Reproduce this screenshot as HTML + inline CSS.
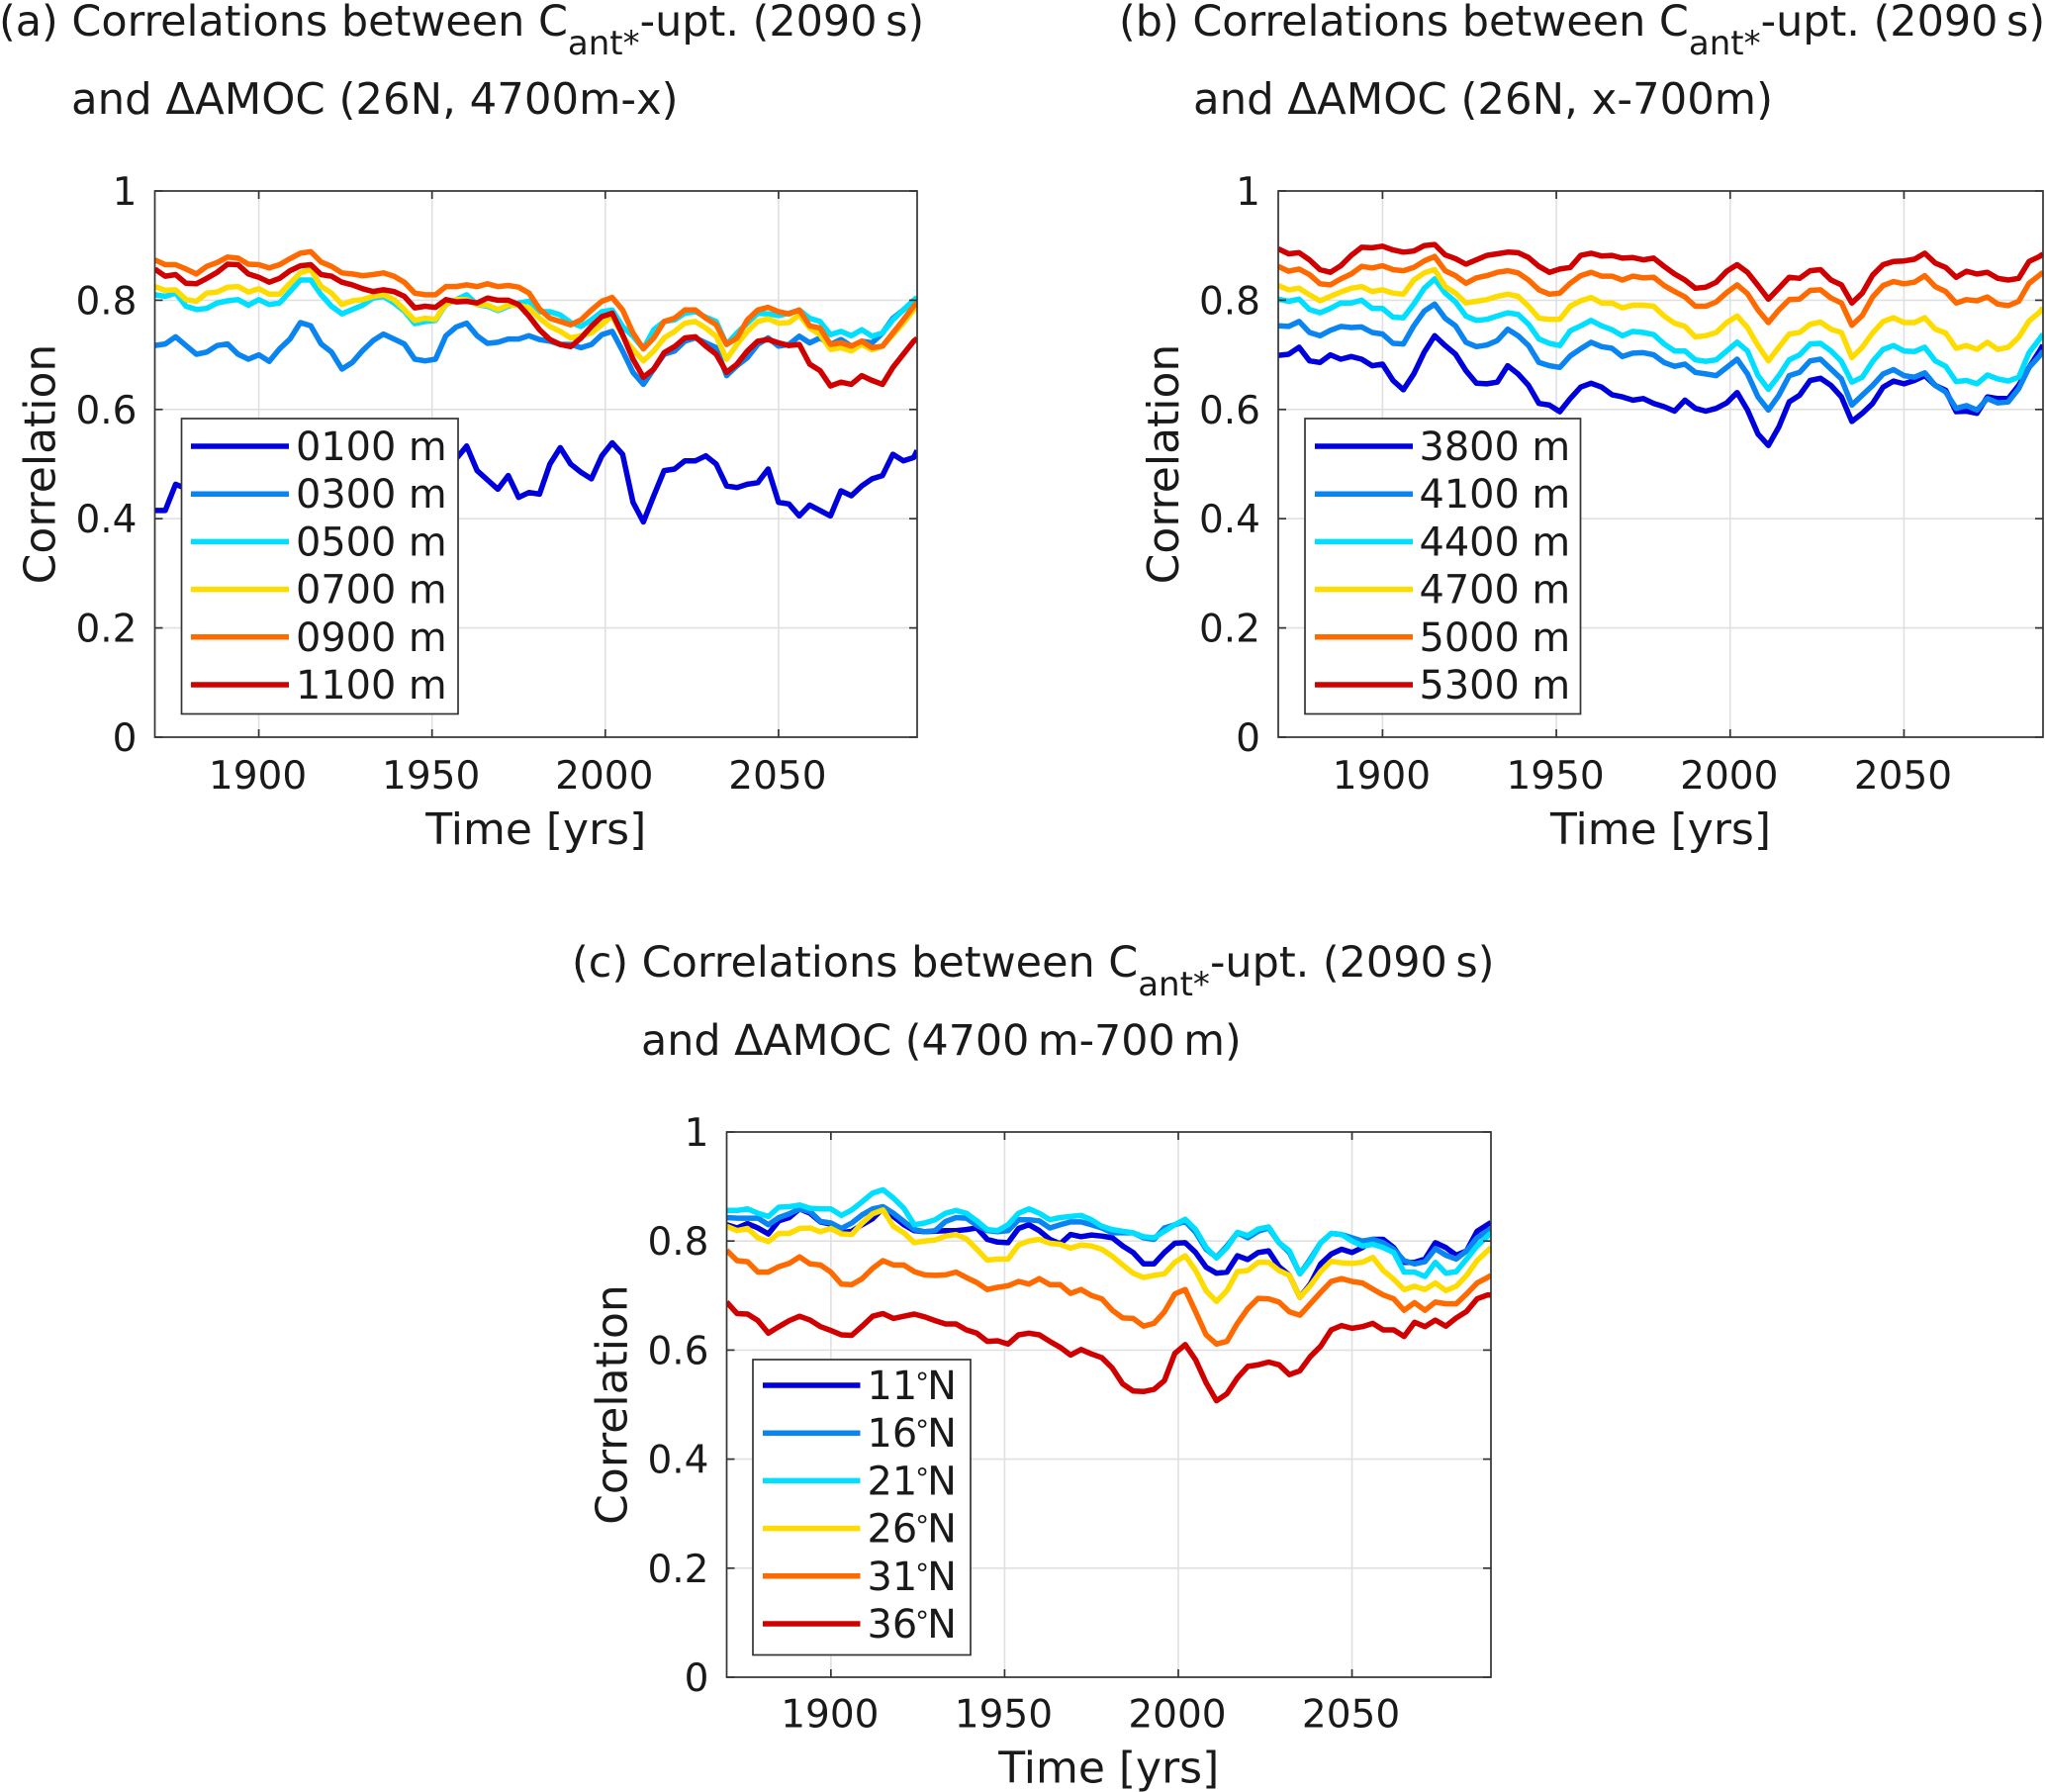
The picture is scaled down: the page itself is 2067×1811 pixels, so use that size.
<!DOCTYPE html>
<html lang="en">
<head>
<meta charset="utf-8">
<title>Correlations between Cant*-uptake and AMOC change</title>
<style>
html,body{margin:0;padding:0;background:#fff;}
svg{display:block;font-family:"DejaVu Sans","Liberation Sans",sans-serif;}
text{fill:#1a1a1a;}
</style>
</head>
<body>
<svg id="figure" xmlns="http://www.w3.org/2000/svg" width="2067" height="1811" viewBox="0 0 2067 1811">
<rect x="0" y="0" width="2067" height="1811" fill="#ffffff"/>
<g font-size="42.9">
<text x="-1" y="36">(a) Correlations between C<tspan dy="19" font-size="34">ant*</tspan><tspan dy="-19">-upt. (2090&#8201;s)</tspan></text>
<text x="72" y="115" font-size="43.4">and ΔAMOC (26N, 4700m-x)</text>
<text x="1131" y="36">(b) Correlations between C<tspan dy="19" font-size="34">ant*</tspan><tspan dy="-19">-upt. (2090&#8201;s)</tspan></text>
<text x="1206" y="115" font-size="43.4">and ΔAMOC (26N, x-700m)</text>
<text x="578" y="987">(c) Correlations between C<tspan dy="19" font-size="34">ant*</tspan><tspan dy="-19">-upt. (2090&#8201;s)</tspan></text>
<text x="648" y="1066" font-size="42.8">and ΔAMOC (4700&#8201;m-700&#8201;m)</text>
</g>
</svg>
<script>
const years=[1870,1873,1876,1879,1882,1885,1888,1891,1894,1897,1900,1903,1906,1909,1912,1915,1918,1921,1924,1927,1930,1933,1936,1939,1942,1945,1948,1951,1954,1957,1960,1963,1966,1969,1972,1975,1978,1981,1984,1987,1990,1993,1996,1999,2002,2005,2008,2011,2014,2017,2020,2023,2026,2029,2032,2035,2038,2041,2044,2047,2050,2053,2056,2059,2062,2065,2068,2071,2074,2077,2080,2083,2086,2089,2090];
const xTickValues=[1900,1950,2000,2050];
const xTickLabels=['1900','1950','2000','2050'];
const yTickValues=[0,0.2,0.4,0.6,0.8,1];
const yTickLabels=['0','0.2','0.4','0.6','0.8','1'];
const xRange=[1870,2090];
const yRange=[0,1];

const a0100=[.415,.415,.463,.455,.46,.47,.48,.47,.46,.47,.48,.49,.50,.49,.52,.50,.50,.49,.48,.47,.49,.50,.51,.50,.50,.51,.52,.51,.52,.51,.533,.488,.471,.454,.479,.439,.448,.445,.500,.530,.500,.485,.473,.515,.539,.518,.430,.394,.442,.488,.491,.506,.506,.515,.500,.460,.457,.463,.466,.491,.430,.427,.405,.425,.415,.405,.451,.442,.460,.473,.479,.518,.506,.512,.525];
const a0300=[.717,.720,.733,.717,.701,.705,.717,.720,.701,.692,.700,.688,.711,.729,.759,.753,.720,.705,.674,.686,.708,.726,.738,.729,.720,.692,.689,.692,.735,.751,.758,.735,.721,.723,.729,.729,.735,.728,.725,.719,.719,.713,.719,.737,.743,.707,.668,.646,.674,.701,.707,.725,.731,.722,.713,.662,.680,.695,.719,.731,.716,.719,.734,.722,.731,.719,.728,.716,.725,.722,.740,.767,.782,.799,.805];
const a0500=[.810,.807,.813,.789,.783,.785,.795,.799,.801,.791,.801,.792,.795,.816,.837,.837,.810,.789,.775,.783,.791,.804,.807,.795,.780,.757,.761,.763,.792,.801,.810,.792,.789,.781,.789,.795,.798,.779,.779,.773,.759,.752,.764,.779,.782,.752,.734,.711,.746,.761,.764,.776,.779,.769,.761,.719,.740,.758,.776,.775,.772,.776,.782,.767,.761,.737,.743,.735,.746,.734,.740,.764,.782,.800,.805];
const a0700=[.825,.818,.819,.801,.798,.813,.815,.824,.825,.815,.821,.811,.811,.831,.850,.856,.825,.813,.792,.799,.801,.807,.810,.801,.783,.763,.767,.765,.793,.801,.801,.792,.791,.783,.791,.791,.786,.767,.752,.743,.731,.735,.740,.755,.772,.734,.710,.689,.707,.731,.743,.758,.761,.749,.734,.692,.719,.743,.761,.766,.758,.759,.773,.749,.737,.710,.713,.707,.719,.709,.716,.737,.758,.782,.79];
const a0900=[.874,.865,.865,.857,.848,.862,.869,.879,.877,.866,.865,.859,.865,.876,.886,.889,.870,.862,.850,.848,.845,.847,.850,.844,.833,.813,.810,.810,.825,.825,.828,.825,.830,.825,.827,.824,.813,.784,.767,.761,.755,.764,.782,.798,.805,.782,.740,.711,.731,.761,.767,.782,.782,.767,.755,.719,.731,.764,.782,.787,.779,.775,.782,.753,.749,.719,.722,.716,.725,.713,.716,.740,.764,.789,.795];
const a1100=[.857,.844,.847,.831,.830,.840,.851,.866,.865,.848,.842,.833,.840,.854,.863,.865,.847,.844,.833,.828,.821,.816,.819,.816,.807,.786,.789,.787,.801,.797,.798,.795,.804,.800,.800,.792,.771,.746,.728,.719,.715,.731,.752,.770,.776,.737,.692,.659,.674,.704,.715,.731,.733,.716,.701,.668,.683,.707,.725,.728,.722,.717,.719,.683,.671,.643,.650,.646,.662,.653,.646,.677,.701,.725,.73];

const b3800=[.699,.701,.714,.689,.686,.700,.692,.697,.692,.680,.683,.653,.636,.665,.705,.735,.717,.701,.671,.648,.647,.650,.680,.665,.644,.611,.608,.596,.620,.641,.648,.641,.627,.623,.617,.620,.611,.605,.597,.617,.602,.597,.602,.612,.631,.599,.555,.534,.568,.614,.626,.653,.657,.644,.623,.578,.593,.611,.641,.652,.647,.653,.662,.644,.635,.596,.597,.593,.623,.620,.620,.644,.677,.707,.718];
const b4100=[.753,.752,.761,.741,.735,.745,.752,.750,.751,.741,.738,.721,.720,.753,.780,.793,.767,.753,.723,.715,.718,.726,.747,.735,.717,.686,.680,.677,.698,.711,.723,.715,.712,.697,.703,.704,.700,.686,.679,.683,.668,.665,.662,.677,.692,.665,.623,.599,.626,.662,.668,.689,.692,.674,.656,.608,.626,.644,.665,.673,.662,.659,.667,.644,.632,.602,.607,.599,.620,.612,.614,.638,.677,.698,.707];
const b4400=[.802,.798,.802,.783,.777,.785,.795,.795,.800,.785,.785,.769,.768,.793,.822,.839,.813,.797,.771,.763,.765,.771,.777,.774,.756,.729,.721,.717,.744,.753,.763,.753,.746,.735,.743,.741,.737,.720,.707,.707,.691,.688,.691,.707,.723,.707,.662,.637,.662,.691,.700,.720,.721,.707,.688,.650,.659,.688,.710,.717,.707,.706,.714,.689,.679,.651,.653,.647,.663,.656,.652,.659,.704,.729,.738];
const b4700=[.827,.819,.822,.810,.799,.807,.815,.822,.825,.816,.819,.813,.811,.837,.850,.856,.825,.813,.795,.798,.801,.807,.811,.807,.789,.767,.765,.765,.789,.799,.805,.795,.795,.786,.791,.791,.789,.771,.758,.752,.733,.735,.741,.759,.771,.750,.717,.689,.714,.738,.741,.756,.760,.747,.741,.695,.714,.740,.761,.768,.759,.759,.768,.747,.740,.712,.717,.710,.723,.710,.714,.732,.762,.778,.786];
const b5000=[.862,.853,.857,.847,.830,.828,.839,.848,.862,.859,.863,.856,.854,.860,.872,.880,.854,.845,.831,.841,.845,.851,.854,.850,.837,.819,.811,.813,.831,.845,.851,.844,.844,.837,.844,.841,.842,.827,.816,.806,.789,.789,.797,.814,.828,.812,.782,.759,.782,.801,.802,.818,.819,.804,.795,.754,.772,.806,.827,.834,.830,.833,.845,.825,.816,.795,.801,.799,.806,.793,.790,.798,.831,.846,.851];
const b5300=[.894,.885,.887,.874,.856,.851,.863,.882,.897,.896,.899,.892,.888,.890,.900,.902,.883,.876,.866,.874,.882,.885,.888,.887,.878,.862,.851,.857,.860,.882,.886,.881,.882,.877,.878,.874,.877,.862,.848,.837,.822,.824,.833,.853,.865,.851,.827,.802,.822,.842,.840,.854,.856,.837,.828,.795,.813,.846,.865,.871,.872,.875,.886,.868,.860,.842,.853,.848,.851,.840,.837,.840,.871,.880,.885];

const c11n=[.830,.824,.832,.824,.813,.837,.843,.859,.851,.835,.831,.815,.818,.830,.841,.860,.845,.830,.819,.817,.818,.819,.819,.821,.824,.803,.798,.797,.823,.830,.819,.803,.795,.812,.808,.811,.809,.806,.791,.779,.758,.758,.779,.796,.797,.779,.752,.741,.743,.773,.766,.779,.782,.753,.737,.697,.721,.758,.776,.785,.779,.788,.803,.803,.788,.761,.761,.767,.797,.788,.774,.782,.818,.830,.834];
const c16n=[.843,.842,.842,.842,.830,.843,.850,.859,.854,.836,.833,.823,.833,.848,.859,.863,.851,.836,.821,.817,.819,.836,.843,.842,.829,.819,.817,.819,.839,.839,.837,.824,.830,.835,.835,.830,.824,.815,.815,.815,.806,.803,.824,.830,.836,.816,.785,.770,.791,.815,.806,.818,.824,.797,.779,.740,.767,.797,.814,.812,.806,.800,.803,.797,.785,.764,.758,.762,.786,.774,.767,.782,.806,.818,.824];
const c21n=[.856,.856,.859,.851,.845,.862,.863,.866,.860,.859,.859,.847,.857,.872,.888,.894,.879,.860,.830,.833,.839,.851,.856,.851,.837,.821,.819,.830,.851,.859,.851,.839,.843,.845,.847,.839,.827,.821,.818,.815,.808,.806,.818,.830,.840,.821,.788,.769,.788,.816,.810,.822,.826,.797,.782,.740,.764,.797,.814,.812,.800,.791,.794,.788,.779,.743,.743,.735,.761,.741,.744,.767,.791,.809,.815];
const c26n=[.827,.819,.823,.806,.799,.814,.814,.823,.824,.817,.823,.813,.812,.833,.850,.857,.827,.815,.797,.800,.802,.809,.812,.804,.785,.765,.767,.767,.793,.800,.803,.796,.794,.787,.793,.791,.785,.772,.756,.741,.733,.737,.740,.761,.773,.746,.709,.689,.709,.744,.746,.761,.761,.746,.737,.697,.718,.744,.763,.760,.759,.761,.770,.746,.730,.711,.717,.711,.723,.709,.717,.737,.764,.782,.788];
const c31n=[.783,.764,.762,.743,.743,.753,.759,.771,.758,.756,.743,.721,.720,.731,.750,.764,.756,.756,.744,.738,.737,.738,.743,.733,.724,.711,.715,.718,.726,.721,.731,.720,.720,.704,.711,.700,.694,.673,.659,.658,.644,.649,.670,.703,.711,.670,.628,.611,.616,.649,.676,.695,.694,.688,.670,.664,.685,.706,.726,.731,.726,.723,.712,.701,.694,.673,.687,.673,.688,.685,.685,.703,.723,.733,.737];
const c36n=[.688,.667,.666,.654,.631,.643,.654,.662,.655,.643,.636,.628,.627,.644,.662,.667,.658,.662,.666,.661,.654,.648,.648,.637,.631,.616,.617,.611,.628,.631,.628,.616,.605,.591,.601,.593,.586,.567,.538,.525,.524,.528,.544,.594,.610,.582,.540,.507,.520,.549,.570,.573,.578,.573,.555,.562,.588,.607,.637,.645,.640,.643,.649,.637,.637,.625,.651,.643,.655,.644,.659,.671,.694,.701,.701];

const seriesColors=['#0000dd','#0a84f0','#00dfff','#ffdc00','#ff6a00','#d00000'];
const panelALabels=['0100 m','0300 m','0500 m','0700 m','0900 m','1100 m'];
const panelBLabels=['3800 m','4100 m','4400 m','4700 m','5000 m','5300 m'];
const panelCLabels=['11','16','21','26','31','36'];

const panelA={id:'a',left:156.5,top:193,width:770.5,height:552,legendW:279.5,legendDx:27,lineDx:36.5,lineLen:99,textDx:142.5,rowDy:258,tickDy:52,titleDy:108,values:[a0100,a0300,a0500,a0700,a0900,a1100],labels:panelALabels,latitude:false};
const panelB={id:'b',left:1292,top:193,width:773,height:552,legendW:278.5,legendDx:27,lineDx:37,lineLen:99,textDx:142.5,rowDy:258,tickDy:52,titleDy:108,values:[b3800,b4100,b4400,b4700,b5000,b5300],labels:panelBLabels,latitude:false};
const panelC={id:'c',left:734.5,top:1144,width:772.5,height:551,legendW:220,legendDx:26.5,lineDx:36.5,lineLen:98.5,textDx:142,rowDy:256,tickDy:50.5,titleDy:106.5,values:[c11n,c16n,c21n,c26n,c31n,c36n],labels:panelCLabels,latitude:true};

const SVGNS='http://www.w3.org/2000/svg';
const figure=document.getElementById('figure');
function make(tag,parent,attrs){
  const node=document.createElementNS(SVGNS,tag);
  for(const key in attrs){node.setAttribute(key,attrs[key]);}
  parent.appendChild(node);
  return node;
}
function drawPanel(p){
  const xAxis=function(year){return p.left+(year-xRange[0])/(xRange[1]-xRange[0])*p.width;};
  const yAxis=function(v){return p.top+p.height-(v-yRange[0])/(yRange[1]-yRange[0])*p.height;};
  const bottom=p.top+p.height;
  const right=p.left+p.width;

  const group=make('g',figure,{});
  
  

  const clip=make('clipPath',group,{id:'clip-'+p.id});
  make('rect',clip,{x:p.left,y:p.top,width:p.width,height:p.height});

  xTickValues.forEach(function(t,i){
    const x=xAxis(t);
    const grid=make('line',group,{x1:x,x2:x,y1:p.top,y2:bottom,stroke:'#e0e0e0','stroke-width':1.6});
    
    
  });
  yTickValues.forEach(function(t,i){
    if(t===yRange[0]||t===yRange[1]){return;}
    const y=yAxis(t);
    const grid=make('line',group,{x1:p.left,x2:right,y1:y,y2:y,stroke:'#e0e0e0','stroke-width':1.6});
    
    
  });

  p.values.forEach(function(vals,i){
    const pts=vals.map(function(v,j){return xAxis(years[j]).toFixed(1)+','+yAxis(v).toFixed(1);}).join(' ');
    const line=make('polyline',group,{points:pts,fill:'none',stroke:seriesColors[i],'stroke-width':5.5,'stroke-linejoin':'round','clip-path':'url(#clip-'+p.id+')'});
    
    
  });

  const box=make('rect',group,{x:p.left,y:p.top,width:p.width,height:p.height,fill:'none',stroke:'#333333','stroke-width':1.7});
  
  

  xTickValues.forEach(function(t,i){
    const x=xAxis(t);
    const tb=make('line',group,{x1:x,x2:x,y1:bottom,y2:bottom-8,stroke:'#333333','stroke-width':1.7});
    
    
    const tt=make('line',group,{x1:x,x2:x,y1:p.top,y2:p.top+8,stroke:'#333333','stroke-width':1.7});
    
    
    const lab=make('text',group,{x:x-1,y:bottom+p.tickDy,'text-anchor':'middle','font-size':39});
    lab.textContent=xTickLabels[i];
    
    
  });
  yTickValues.forEach(function(t,i){
    const y=yAxis(t);
    const tl=make('line',group,{x1:p.left,x2:p.left+8,y1:y,y2:y,stroke:'#333333','stroke-width':1.7});
    
    
    const tr=make('line',group,{x1:right,x2:right-8,y1:y,y2:y,stroke:'#333333','stroke-width':1.7});
    
    
    const lab=make('text',group,{x:p.left-18,y:y+14,'text-anchor':'end','font-size':39});
    lab.textContent=yTickLabels[i];
    
    
  });

  const xTitle=make('text',group,{x:p.left+p.width/2,y:bottom+p.titleDy,'text-anchor':'middle','font-size':44});
  xTitle.textContent='Time [yrs]';
  
  
  const yCenter=p.top+p.height/2;
  const yTitle=make('text',group,{x:p.left-101,y:yCenter,'text-anchor':'middle','font-size':44,transform:'rotate(-90 '+(p.left-101)+' '+yCenter+')'});
  yTitle.textContent='Correlation';
  
  

  const legend=make('g',group,{});
  
  
  const frame=make('rect',legend,{x:p.left+p.legendDx,y:p.top+230,width:p.legendW,height:298.5,fill:'#ffffff',stroke:'#333333','stroke-width':1.7});
  
  
  p.labels.forEach(function(label,i){
    const rowY=p.top+p.rowDy+i*48.2;
    const key=make('line',legend,{x1:p.left+p.lineDx,x2:p.left+p.lineDx+p.lineLen,y1:rowY,y2:rowY,stroke:seriesColors[i],'stroke-width':5.5});
    
    
    const txt=make('text',legend,{x:p.left+p.textDx,y:rowY+14,'font-size':39.8,fill:'#000000'});
    
    
    if(p.latitude){
      txt.appendChild(document.createTextNode(label));
      const deg=make('tspan',txt,{'font-size':28,dy:-7,dx:-2});
      deg.textContent='°';
      const north=make('tspan',txt,{dy:7,dx:-2});
      north.textContent='N';
    }else{
      txt.textContent=label;
    }
  });
}
drawPanel(panelA);
drawPanel(panelB);
drawPanel(panelC);
</script>
</body>
</html>
